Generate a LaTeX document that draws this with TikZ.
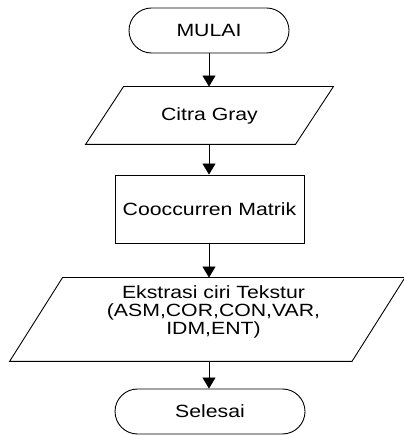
\documentclass[tikz,border=0pt]{standalone}
\usepackage{fontspec}
\setmainfont{Liberation Sans}[FakeStretch=1.2]
\usetikzlibrary{arrows.meta,calc}
\begin{document}
\begin{tikzpicture}[x=1pt,y=1pt,line width=0.9pt,
  every node/.style={font=\fontsize{17.7}{18}\selectfont, align=center, inner sep=0pt},
  term/.style={draw, rounded corners=22.5pt, minimum height=45pt},
  boxnode/.style={draw, minimum width=189pt, minimum height=68pt},
  arr/.style={-{Triangle[width=13pt,length=11pt]}}]
\useasboundingbox (0,0) rectangle (403,435);
% nodes
\node[term, minimum width=160pt] (m) at (209,404.5) {MULAI};
\node[minimum width=209pt, minimum height=57pt] (g) at (209.5,319.5) {Citra Gray};
\draw ($(g.north west)+(19,0)$) -- ($(g.north east)+(19,0)$) -- ($(g.south east)+(-19,0)$) -- ($(g.south west)+(-19,0)$) -- cycle;
\node[boxnode] (c) at (209.5,226) {Cooccurren Matrik};
\node[minimum width=341.5pt, minimum height=83pt] (e) at (207.25,115.5) {};
\draw ($(e.north west)+(26.5,0)$) -- ($(e.north east)+(26.5,0)$) -- ($(e.south east)+(-26.5,0)$) -- ($(e.south west)+(-26.5,0)$) -- cycle;
\node (et) at (213.5,123.5) {Ekstrasi ciri Tekstur\\(ASM,COR,CON,VAR,\\IDM,ENT)};
\node[term, minimum width=190pt] (s) at (210,23.5) {Selesai};
% connectors
\draw[arr] (m.south) -- (m.south |- g.north);
\draw[arr] (m.south |- g.south) -- (m.south |- c.north);
\draw[arr] (m.south |- c.south) -- (m.south |- e.north);
\draw[arr] (m.south |- e.south) -- (m.south |- s.north);
\end{tikzpicture}
\end{document}
